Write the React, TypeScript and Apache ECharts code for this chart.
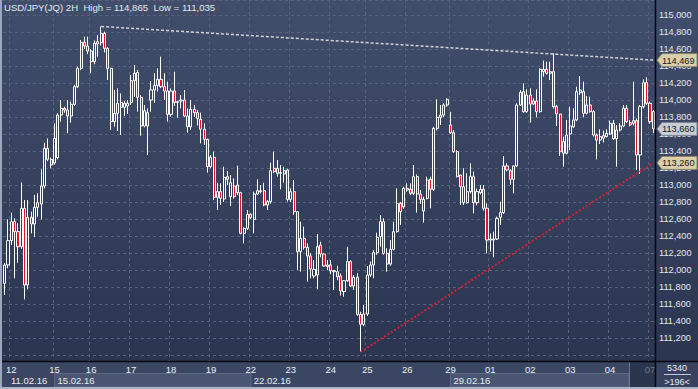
import React, { useEffect, useRef } from "react";
import * as echarts from "echarts";

const FONT = "'Liberation Sans', Arial, sans-serif";

const titleText = "USD/JPY(JQ) 2H  High = 114,865  Low = 111,035";

const dayLabels = ["12", "15", "16", "17", "18", "19", "22", "23", "24", "25", "26", "29", "01", "02", "03", "04", "07"];
const dayStarts = [2, 15, 26, 38, 50, 62, 74, 86, 98, 109, 121, 134, 146, 158, 170, 182, 194];

const weekLabels = ["11.02.16", "15.02.16", "22.02.16", "29.02.16"];
const weekStarts = [1, 15, 74, 134];
const shadedWeekFrom = [15, 134];
const shadedWeekTo = [74, -1];

// [open, close, low, high]
const candles: number[][] = [
  [111843, 112059, 111706, 112080],
  [112059, 112345, 112020, 112596],
  [112345, 112568, 112294, 112674],
  [112568, 112451, 111902, 112608],
  [112451, 112274, 112086, 112549],
  [112274, 112725, 112250, 113031],
  [112725, 111823, 111655, 112823],
  [111823, 112619, 111772, 112823],
  [112619, 112541, 112431, 112686],
  [112541, 112737, 112392, 112882],
  [112737, 112792, 112627, 112902],
  [112776, 112988, 112596, 113184],
  [112988, 113431, 112960, 113498],
  [113431, 113302, 113280, 113549],
  [113302, 113235, 113196, 113321],
  [113260, 113549, 113240, 113725],
  [113321, 113823, 113300, 113843],
  [113823, 113902, 113745, 114000],
  [113902, 113882, 113850, 113921],
  [113882, 113812, 113608, 114000],
  [113812, 113949, 113733, 113980],
  [113949, 114157, 113930, 114180],
  [114157, 114372, 114140, 114392],
  [114372, 114678, 114350, 114706],
  [114678, 114635, 114600, 114745],
  [114635, 114576, 114540, 114745],
  [114576, 114451, 114314, 114600],
  [114451, 114667, 114420, 114700],
  [114686, 114659, 114510, 114765],
  [114674, 114784, 114640, 114865],
  [114784, 114608, 114560, 114804],
  [114608, 114372, 114235, 114620],
  [114372, 113745, 113647, 114380],
  [113745, 113843, 113686, 114118],
  [113843, 113961, 113635, 114137],
  [113972, 113914, 113588, 114078],
  [113914, 113961, 113812, 113988],
  [113929, 113961, 113835, 114000],
  [113972, 114227, 113941, 114294],
  [114227, 114314, 114039, 114412],
  [114325, 114031, 113863, 114353],
  [114031, 113694, 113580, 114059],
  [113694, 113874, 113678, 113941],
  [113851, 113694, 113353, 113902],
  [114000, 114118, 113863, 114223],
  [114118, 114172, 113968, 114314],
  [114172, 114243, 114098, 114372],
  [114243, 114157, 114140, 114510],
  [114157, 114106, 114000, 114314],
  [114106, 113831, 113745, 114216],
  [113831, 114106, 113804, 114137],
  [114106, 113972, 113931, 114333],
  [113972, 113980, 113792, 113990],
  [113988, 114000, 113902, 114059],
  [114000, 113812, 113800, 114118],
  [113812, 113686, 113615, 113902],
  [113686, 113890, 113647, 114000],
  [113890, 113851, 113800, 113941],
  [113851, 113784, 113700, 113880],
  [113773, 113655, 113490, 113851],
  [113655, 113537, 113471, 113725],
  [113537, 113216, 113145, 113545],
  [113216, 113325, 113196, 113353],
  [113325, 112855, 112824, 113392],
  [112855, 112922, 112706, 113027],
  [112922, 112843, 112765, 113020],
  [112835, 113090, 112800, 113216],
  [113098, 113067, 113000, 113165],
  [112863, 113027, 112753, 113118],
  [112988, 112863, 112840, 113078],
  [113000, 112910, 112880, 113227],
  [112910, 112431, 112420, 112920],
  [112431, 112490, 112314, 112502],
  [112490, 112655, 112470, 112706],
  [112655, 112616, 112600, 112667],
  [112596, 112894, 112431, 112922],
  [112894, 112933, 112880, 113067],
  [112922, 112933, 112900, 113000],
  [112933, 112765, 112750, 113027],
  [112765, 112804, 112706, 112824],
  [112804, 113169, 112780, 113263],
  [113196, 113157, 113140, 113392],
  [113196, 113137, 113100, 113294],
  [113137, 113145, 112949, 113235],
  [113129, 113169, 113027, 113216],
  [113176, 112831, 112804, 113190],
  [112831, 112921, 112800, 112961],
  [112921, 112686, 112650, 113059],
  [112686, 112216, 111999, 112686],
  [112216, 112372, 111980, 112569],
  [112372, 112267, 112240, 112510],
  [112267, 112165, 111863, 112314],
  [112165, 112012, 111902, 112196],
  [111929, 112008, 111900, 112118],
  [111941, 112274, 111772, 112423],
  [112294, 112188, 112150, 112333],
  [112188, 112047, 112040, 112196],
  [112059, 112039, 112000, 112118],
  [112059, 111992, 111950, 112118],
  [111980, 111992, 111765, 112000],
  [111980, 111921, 111880, 112050],
  [111929, 111753, 111700, 111960],
  [111745, 111874, 111686, 111880],
  [111874, 112098, 111860, 112274],
  [112098, 111812, 111800, 112118],
  [111812, 111914, 111765, 111941],
  [111914, 111478, 111460, 111961],
  [111478, 111361, 111035, 111510],
  [111361, 111482, 111340, 111588],
  [111482, 111941, 111460, 112047],
  [111941, 112059, 111920, 112100],
  [112059, 112204, 111902, 112235],
  [112204, 112384, 112180, 112439],
  [112392, 112568, 112274, 112647],
  [112568, 112196, 112180, 112608],
  [112196, 112070, 111980, 112255],
  [112070, 112243, 112050, 112353],
  [112243, 112451, 112230, 112568],
  [112451, 112784, 112440, 112961],
  [112784, 112686, 112529, 112800],
  [112745, 112961, 112720, 112980],
  [112941, 112961, 112920, 113019],
  [112949, 112902, 112880, 113019],
  [112902, 113098, 112880, 113235],
  [113098, 112894, 112674, 113125],
  [112894, 112831, 112776, 112941],
  [112694, 112831, 112557, 112863],
  [112843, 113059, 112830, 113098],
  [113067, 112949, 112725, 113098],
  [112949, 113666, 112930, 113686],
  [113666, 113796, 113640, 114008],
  [113796, 113823, 113706, 113941],
  [113823, 113941, 113800, 113961],
  [113941, 114008, 113920, 114020],
  [113706, 113615, 113600, 113862],
  [113615, 113392, 113380, 113647],
  [113392, 113098, 113090, 113412],
  [113118, 112980, 112764, 113118],
  [112792, 112980, 112764, 113196],
  [112792, 112921, 112780, 113137],
  [112921, 113098, 112900, 113255],
  [113098, 112792, 112667, 113157],
  [112792, 112922, 112760, 112960],
  [112910, 112949, 112890, 113000],
  [112949, 112726, 112698, 113000],
  [112726, 112353, 112196, 112784],
  [112353, 112365, 112216, 112431],
  [112353, 112365, 112149, 112451],
  [112365, 112608, 112353, 112628],
  [112620, 112675, 112530, 112804],
  [112675, 113224, 112660, 113341],
  [113224, 113177, 113160, 113255],
  [113169, 113067, 113000, 113184],
  [113067, 113224, 112902, 113230],
  [113224, 113941, 113210, 113961],
  [113941, 114090, 113930, 114118],
  [114098, 113863, 113850, 114196],
  [113863, 114059, 113850, 114126],
  [114059, 113953, 113733, 114137],
  [113953, 113988, 113940, 114020],
  [113988, 113863, 113796, 114126],
  [113863, 114361, 113850, 114373],
  [114333, 114361, 114275, 114463],
  [114361, 114314, 114300, 114451],
  [114314, 114333, 114235, 114451],
  [114333, 113922, 113900, 114549],
  [113922, 113835, 113694, 113941],
  [113835, 113392, 113341, 113835],
  [113373, 113510, 113216, 113569],
  [113373, 113588, 113360, 113765],
  [113600, 113694, 113412, 113922],
  [113686, 113765, 113670, 113902],
  [113765, 114098, 113750, 114157],
  [114086, 114118, 114060, 114282],
  [114098, 113843, 113796, 114216],
  [113843, 113941, 113830, 114047],
  [113941, 113863, 113850, 114039],
  [113863, 113588, 113570, 113880],
  [113588, 113529, 113302, 113608],
  [113529, 113569, 113482, 113655],
  [113550, 113580, 113500, 113640],
  [113569, 113608, 113560, 113655],
  [113600, 113726, 113590, 113760],
  [113726, 113545, 113530, 113765],
  [113545, 113647, 113216, 113706],
  [113647, 113694, 113630, 113726],
  [113694, 113902, 113680, 113941],
  [113902, 113745, 113730, 113941],
  [113733, 113706, 113690, 113765],
  [113726, 113757, 113700, 114216],
  [113757, 113353, 113177, 113784],
  [113353, 113922, 113130, 113941],
  [113922, 114204, 113900, 114243],
  [114204, 113961, 113940, 114267],
  [113961, 113745, 113720, 113981],
  [113863, 113660, 113610, 113880],
];

// trend lines: [categoryIndex, price]
const resistanceLine = [[29, 114865], [195, 114469]];
const supportLine = [[107, 111035], [195, 113260]];

// price tags on the right scale
const tagValues = [114469, 113660, 113260];
const tagKinds = ["line", "last", "line"];

const totalBars = "5340";
const visibleBars = ">196<";

// axis extent (value at top and bottom edge of the plot)
const Y_MAX = 115176.5;
const Y_MIN = 110929.4;

const categories = candles.map((_, i) => String(i));
const labelAt = new Map<number, string>();
dayStarts.forEach((d, k) => labelAt.set(d, dayLabels[k]));

const fmt = (v: number) =>
  String(Math.round(v)).replace(/\B(?=(\d{3})+(?!\d))/g, ",");

const W = 698;
const H = 389;
const GRID_RIGHT = 655;
const GRID_BOTTOM = 361;

export default function App() {
  const ref = useRef<HTMLDivElement>(null);

  useEffect(() => {
    document.body.style.margin = "0";
    const chart = echarts.init(ref.current!, undefined, { renderer: "svg" });

    const gridLine = { color: "#56627d", type: [3, 3] as number[], width: 1 };

    chart.setOption({
      animation: false,
      backgroundColor: new echarts.graphic.LinearGradient(0, 0, 0, 1, [
        { offset: 0, color: "#414e6b" },
        { offset: 1, color: "#29334e" },
      ]),
      textStyle: { fontFamily: FONT },
      title: {
        text: titleText,
        left: 4,
        top: 2,
        padding: 0,
        textStyle: {
          color: "#e3e8f0",
          fontSize: 9.6,
          fontWeight: "normal",
          fontFamily: FONT,
        },
      },
      grid: { left: 3, right: W - GRID_RIGHT, top: 0, bottom: H - GRID_BOTTOM },
      xAxis: {
        type: "category",
        data: categories,
        boundaryGap: true,
        axisLine: { show: false },
        axisTick: { show: false },
        axisLabel: {
          interval: (i: number) => labelAt.has(i),
          formatter: (_v: string, i: number) => labelAt.get(i) ?? "",
          color: "#e8edf5",
          fontSize: 9.5,
          fontFamily: FONT,
          margin: 3,
        },
        splitLine: {
          show: true,
          interval: (i: number) => labelAt.has(i),
          lineStyle: gridLine,
        },
      },
      yAxis: {
        type: "value",
        position: "right",
        min: Y_MIN,
        max: Y_MAX,
        splitNumber: 21,
        axisLine: { show: false },
        axisTick: { show: false },
        axisLabel: {
          color: "#e3e8f0",
          fontSize: 9.2,
          fontFamily: FONT,
          margin: 4,
          showMinLabel: false,
          showMaxLabel: false,
          formatter: (v: number) =>
            Math.abs(v % 200) < 1e-6 && v >= 111100 ? fmt(v) : "",
        },
        splitLine: { show: true, lineStyle: gridLine },
      },
      series: [
        {
          type: "candlestick",
          data: candles,
          barWidth: 2.6,
          clip: true,
          itemStyle: {
            color: "rgba(0,0,0,0)",
            color0: "#e8102c",
            borderColor: "#ffffff",
            borderColor0: "#ffffff",
            borderWidth: 1,
          },
          emphasis: { disabled: true },
          markLine: {
            silent: true,
            symbol: ["none", "none"],
            label: { show: false },
            emphasis: { disabled: true },
            data: [
              [
                {
                  coord: [String(resistanceLine[0][0]), resistanceLine[0][1]],
                  lineStyle: { color: "#cfd4dc", type: [3, 2], width: 1.5 },
                },
                { coord: [String(resistanceLine[1][0]), resistanceLine[1][1]] },
              ],
              [
                {
                  coord: [String(supportLine[0][0]), supportLine[0][1]],
                  lineStyle: { color: "#d41f38", type: [2, 2], width: 2 },
                },
                { coord: [String(supportLine[1][0]), supportLine[1][1]] },
              ],
            ],
          },
        },
      ],
    });

    const px = (i: number) => chart.convertToPixel({ xAxisIndex: 0 }, i) as number;
    const py = (v: number) => chart.convertToPixel({ yAxisIndex: 0 }, v) as number;

    const els: any[] = [];
    // bottom axis strip
    els.push({
      type: "rect",
      silent: true,
      z: -1,
      shape: { x: 0, y: GRID_BOTTOM, width: W, height: H - GRID_BOTTOM },
      style: { fill: "#3b4762" },
    });
    // shaded week boxes
    shadedWeekFrom.forEach((from, k) => {
      const x0 = px(from);
      const x1 = shadedWeekTo[k] >= 0 ? px(shadedWeekTo[k]) : 629;
      els.push({
        type: "rect",
        silent: true,
        z: -1,
        shape: { x: x0, y: 373.5, width: x1 - x0, height: 13.5 },
        style: { fill: "#4a5671", stroke: "#5e6a85", lineWidth: 1 },
      });
    });
    // week labels
    weekStarts.forEach((s, k) => {
      els.push({
        type: "text",
        silent: true,
        z: 5,
        x: px(s) + 3,
        y: 380.5,
        style: {
          text: weekLabels[k],
          fill: "#e6ebf3",
          font: `9.5px ${FONT}`,
          align: "left",
          verticalAlign: "middle",
        },
      });
    });
    // darker scroll area on the bottom right
    els.push({
      type: "rect",
      silent: true,
      z: 20,
      shape: { x: 629, y: GRID_BOTTOM + 1, width: GRID_RIGHT - 629, height: 25 },
      style: { fill: "rgba(33,43,65,0.62)" },
    });
    els.push({
      type: "line",
      silent: true,
      z: 21,
      shape: { x1: 629.5, y1: GRID_BOTTOM + 1, x2: 629.5, y2: 387 },
      style: { stroke: "#6a768f", lineWidth: 1 },
    });
    // corner box on the right of the time axis
    els.push({
      type: "rect",
      silent: true,
      z: 22,
      shape: { x: GRID_RIGHT, y: GRID_BOTTOM, width: W - GRID_RIGHT, height: H - GRID_BOTTOM },
      style: { fill: "#37435e" },
    });
    els.push({
      type: "text",
      silent: true,
      z: 23,
      x: 677,
      y: 368,
      style: { text: totalBars, fill: "#e6ebf3", font: `9px ${FONT}`, align: "center", verticalAlign: "middle" },
    });
    els.push({
      type: "line",
      silent: true,
      z: 23,
      shape: { x1: 664, y1: 374.5, x2: 691, y2: 374.5 },
      style: { stroke: "#c5ccd8", lineWidth: 1 },
    });
    els.push({
      type: "text",
      silent: true,
      z: 23,
      x: 677,
      y: 381.5,
      style: { text: visibleBars, fill: "#e6ebf3", font: `9px ${FONT}`, align: "center", verticalAlign: "middle" },
    });
    // separator lines
    els.push({
      type: "line",
      silent: true,
      z: 30,
      shape: { x1: GRID_RIGHT + 0.5, y1: 0, x2: GRID_RIGHT + 0.5, y2: H },
      style: { stroke: "#05070c", lineWidth: 1.5 },
    });
    els.push({
      type: "line",
      silent: true,
      z: 30,
      shape: { x1: 0, y1: GRID_BOTTOM + 0.5, x2: W, y2: GRID_BOTTOM + 0.5 },
      style: { stroke: "#05070c", lineWidth: 1.5 },
    });
    // frame
    els.push({
      type: "rect",
      silent: true,
      z: 31,
      shape: { x: 0, y: 0, width: 2, height: H },
      style: { fill: "#9ba7bc" },
    });
    els.push({
      type: "rect",
      silent: true,
      z: 31,
      shape: { x: 0, y: H - 2, width: W, height: 2 },
      style: { fill: "#aab4c6" },
    });
    // price tags
    tagValues.forEach((v, k) => {
      const y = py(v);
      const x0 = GRID_RIGHT + 2;
      const x1 = W - 1;
      const fill = tagKinds[k] === "last" ? "#c9cdd4" : "#d9d0a9";
      const stroke = tagKinds[k] === "last" ? "#7d8493" : "#8b8468";
      els.push({
        type: "polygon",
        silent: true,
        z: 40,
        shape: {
          points: [
            [x0, y],
            [x0 + 5, y - 6.5],
            [x1, y - 6.5],
            [x1, y + 6.5],
            [x0 + 5, y + 6.5],
          ],
        },
        style: { fill, stroke, lineWidth: 1 },
      });
      els.push({
        type: "text",
        silent: true,
        z: 41,
        x: x0 + 5,
        y: y + 0.5,
        style: { text: fmt(v), fill: "#15181f", font: `9.2px ${FONT}`, align: "left", verticalAlign: "middle" },
      });
    });

    chart.setOption({ graphic: els });

    return () => chart.dispose();
  }, []);

  return (
    <div
      ref={ref}
      style={{ position: "absolute", left: 0, top: 0, width: W, height: H }}
    />
  );
}
